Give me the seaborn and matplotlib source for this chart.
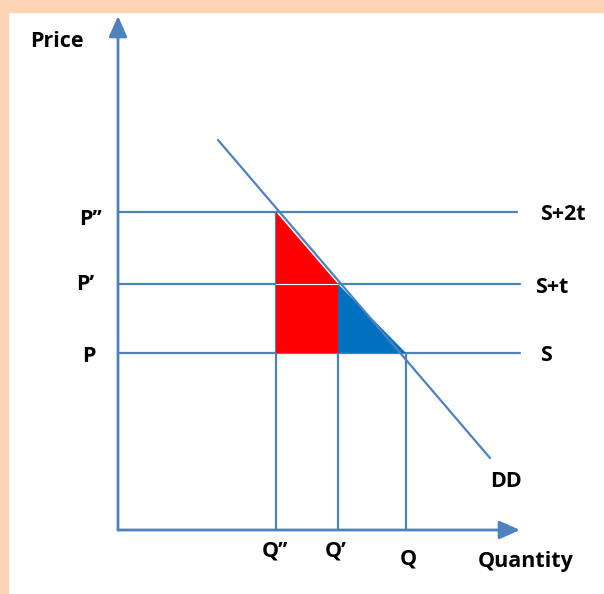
import pandas as pd
import matplotlib.pyplot as plt
import seaborn as sns
from matplotlib.patches import Rectangle

# quantities Q'', Q', Q and prices P'', P', P (1 unit ~ 10 px)
quantities = [15.8, 22.0, 28.8]
prices = [31.8, 24.6, 17.7]
q_labels = ["Q\u2019\u2019", "Q\u2019", "Q"]
p_labels = ["P\u2019\u2019", "P\u2019", "P"]
supply_labels = ["S+2t", "S+t", "S"]
supply_end = [39.9, 40.2, 40.2]

# demand curve end points
demand_q = [10.0, 37.2]
demand_p = [39.0, 7.2]

axis_max_q = 40.2
axis_max_p = 51.4

line_col = "#4F81BD"
sns.set_theme(style="white")
plt.rcParams['font.family'] = ['Open Sans', 'DejaVu Sans']

fig = plt.figure(figsize=(6.04, 5.94), dpi=100)
ax = fig.add_axes([0, 0, 1, 1])
ax.set_xlim(-11.8, 48.6)
ax.set_ylim(-6.4, 53.0)
ax.axis("off")

# peach frame on the top and left edge
fig.patches.append(Rectangle((0, 0), 8 / 604, 1, transform=fig.transFigure, color="#FCD5B4", zorder=0))
fig.patches.append(Rectangle((0, 1 - 12 / 594), 1, 12 / 594, transform=fig.transFigure, color="#FCD5B4", zorder=0))

# axes with arrows
arrow = dict(arrowstyle="-|>,head_length=0.45,head_width=0.2", color=line_col, lw=2,
             mutation_scale=28, shrinkA=0, shrinkB=0)
ax.annotate("", xy=(0, axis_max_p), xytext=(0, 0), arrowprops=arrow)
ax.annotate("", xy=(axis_max_q, 0), xytext=(0, 0), arrowprops=arrow)

# supply lines (price levels) and quantity drop lines
for p, end in zip(prices, supply_end):
    ax.plot([0, end], [p, p], color=line_col, lw=1.6, zorder=2)
for q, p in zip(quantities, prices):
    ax.plot([q, q], [0, p], color=line_col, lw=1.6, zorder=2)

# shaded areas
ax.fill([quantities[0], quantities[1], quantities[1], quantities[0]],
        [prices[0], prices[1], prices[2], prices[2]], color="#FF0000", lw=0, zorder=3)
ax.plot([quantities[0], quantities[1]], [prices[1], prices[1]], color="white", lw=0.8, zorder=3)
ax.fill([quantities[1], quantities[2], quantities[1]],
        [prices[1], prices[2], prices[2]], color="#0070C0", lw=0, zorder=3)

# demand curve
df = pd.DataFrame({"q": demand_q, "p": demand_p})
sns.lineplot(data=df, x="q", y="p", color=line_col, lw=1.6, ax=ax, zorder=4)
ax.set_xlim(-11.8, 48.6)
ax.set_ylim(-6.4, 53.0)

txt = dict(fontsize=15.5, fontweight="bold", color="black", va="baseline")
ax.text(-8.8, 48.3, "Price", ha="left", **txt)
p_label_x = [-2.75, -3.3, -2.95]
p_label_y = [30.5, 24.0, 16.8]
for lab, x, y in zip(p_labels, p_label_x, p_label_y):
    ax.text(x, y, lab, ha="center", **txt)
s_label_x = [42.2, 41.7, 42.2]
s_label_y = [31.0, 23.7, 16.9]
for lab, x, y in zip(supply_labels, s_label_x, s_label_y):
    ax.text(x, y, lab, ha="left", **txt)
ax.text(37.2, 4.3, "DD", ha="left", **txt)
q_label_x = [14.4, 20.7, 28.2]
q_label_y = [-2.7, -2.7, -3.5]
for lab, x, y in zip(q_labels, q_label_x, q_label_y):
    ax.text(x, y, lab, ha="left", **txt)
ax.text(36.0, -3.7, "Quantity", ha="left", **txt)

fig.savefig("out.png", dpi=100)
